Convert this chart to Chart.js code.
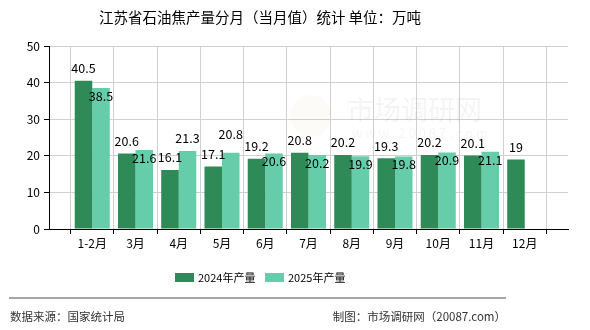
<!DOCTYPE html>
<html>
<head>
<meta charset="utf-8">
<script src="https://cdn.jsdelivr.net/npm/chart.js@4/dist/chart.umd.min.js"></script>
<style>
html,body{margin:0;padding:0;background:#fff;}
#wrap{width:590px;height:330px;position:relative;}
</style>
</head>
<body>
<div id="wrap"><canvas id="c" width="590" height="330"></canvas></div>
<script>
const categories = ['', '1-2月', '3月', '4月', '5月', '6月', '7月', '8月', '9月', '10月', '11月', '12月', ''];
const series2024 = [null, 40.5, 20.6, 16.1, 17.1, 19.2, 20.8, 20.2, 19.3, 20.2, 20.1, 19, null];
const series2025 = [null, 38.5, 21.6, 21.3, 20.8, 20.6, 20.2, 19.9, 19.8, 20.9, 21.1, null, null];
const seriesNames = ['2024年产量', '2025年产量'];
const yTicks = [0, 10, 20, 30, 40, 50];
const titleText = '江苏省石油焦产量分月（当月值）统计 单位：万吨';
const sourceText = '数据来源：国家统计局';
const makerText = '制图：市场调研网（20087.com）';

const colors = ['#2e8b57', '#66cdaa'];
const FONT = '"Noto Sans CJK SC", "Noto Sans", sans-serif';

const decor = {
  id: 'decor',
  beforeDatasetsDraw(chart) {
    const ctx = chart.ctx;
    ctx.save();
    ctx.fillStyle = 'rgba(0,0,0,0.045)';
    ctx.font = '27px ' + FONT;
    ctx.textAlign = 'left';
    ctx.textBaseline = 'middle';
    ctx.fillText('市场调研网', 347, 110);
    ctx.font = '13px ' + FONT;
    ctx.fillText('w w w . 2 0 0 8 7 . c o m', 352, 133);
    ctx.beginPath();
    ctx.arc(311, 116, 21, 0, Math.PI * 2);
    ctx.fillStyle = 'rgba(230,200,150,0.07)';
    ctx.fill();
    ctx.restore();
  },
  afterDatasetsDraw(chart) {
    const ctx = chart.ctx;
    ctx.save();
    ctx.font = '12.5px ' + FONT;
    ctx.fillStyle = '#000';
    ctx.textAlign = 'center';
    ctx.textBaseline = 'middle';
    const m0 = chart.getDatasetMeta(0);
    const m1 = chart.getDatasetMeta(1);
    const d0 = chart.data.datasets[0].data;
    const d1 = chart.data.datasets[1].data;
    for (let i = 0; i < d0.length; i++) {
      let y0 = null;
      if (d0[i] !== null && d0[i] !== undefined) {
        y0 = m0.data[i].y - 12.5;
        ctx.fillText(String(d0[i]), m0.data[i].x, y0);
      }
      if (d1[i] !== null && d1[i] !== undefined) {
        const b = m1.data[i];
        let y1;
        if (y0 !== null && d1[i] - d0[i] > 3) {
          y1 = b.y - 12.5;
          if (y1 > y0 - 14) y1 = y0 - 20;
        } else {
          y1 = b.y + 8;
        }
        ctx.fillText(String(d1[i]), b.x, y1);
      }
    }
    ctx.restore();
  },
  afterDraw(chart) {
    const ctx = chart.ctx;
    ctx.save();
    ctx.fillStyle = '#000';
    ctx.font = '14.5px ' + FONT;
    ctx.textAlign = 'center';
    ctx.textBaseline = 'middle';
    ctx.fillText(titleText, 260, 17);
    ctx.font = '11px ' + FONT;
    ctx.textAlign = 'left';
    const lx = [175, 265];
    seriesNames.forEach((n, i) => {
      ctx.fillStyle = colors[i];
      ctx.fillRect(lx[i], 273, 19, 9);
      ctx.fillStyle = '#000';
      ctx.fillText(n, lx[i] + 23, 278);
    });
    ctx.strokeStyle = '#888';
    ctx.lineWidth = 1.5;
    ctx.beginPath();
    ctx.moveTo(9, 298);
    ctx.lineTo(506, 298);
    ctx.stroke();
    ctx.fillStyle = '#333';
    ctx.font = '11.5px ' + FONT;
    ctx.textAlign = 'left';
    ctx.fillText(sourceText, 10, 317);
    ctx.textAlign = 'right';
    ctx.fillText(makerText, 506, 317);
    ctx.restore();
  }
};

new Chart(document.getElementById('c'), {
  type: 'bar',
  data: {
    labels: categories,
    datasets: [
      { label: seriesNames[0], data: series2024, backgroundColor: colors[0], categoryPercentage: 0.81, barPercentage: 1.0 },
      { label: seriesNames[1], data: series2025, backgroundColor: colors[1], categoryPercentage: 0.81, barPercentage: 1.0 }
    ]
  },
  options: {
    responsive: false,
    animation: false,
    devicePixelRatio: 1,
    layout: { padding: { left: 0, right: 22, top: 46, bottom: 0 } },
    plugins: { legend: { display: false }, title: { display: false }, tooltip: { enabled: false } },
    scales: {
      x: {
        offset: false,
        grid: { color: '#d0d0d0', tickColor: '#000', tickLength: 5, drawOnChartArea: true },
        border: { color: '#000', width: 1 },
        ticks: { color: '#000', font: { size: 12, family: FONT }, autoSkip: false, maxRotation: 0, padding: 2 },
        afterFit(s) { s.height = 101; }
      },
      y: {
        min: 0, max: 50,
        afterBuildTicks(s) { s.ticks = yTicks.map(v => ({ value: v })); },
        grid: { color: '#d0d0d0', tickColor: '#000', tickLength: 5 },
        border: { color: '#000', width: 1 },
        ticks: { color: '#000', font: { size: 12, family: FONT }, padding: 4 },
        afterFit(s) { s.width = 49; }
      }
    }
  },
  plugins: [decor]
});
</script>
</body>
</html>
